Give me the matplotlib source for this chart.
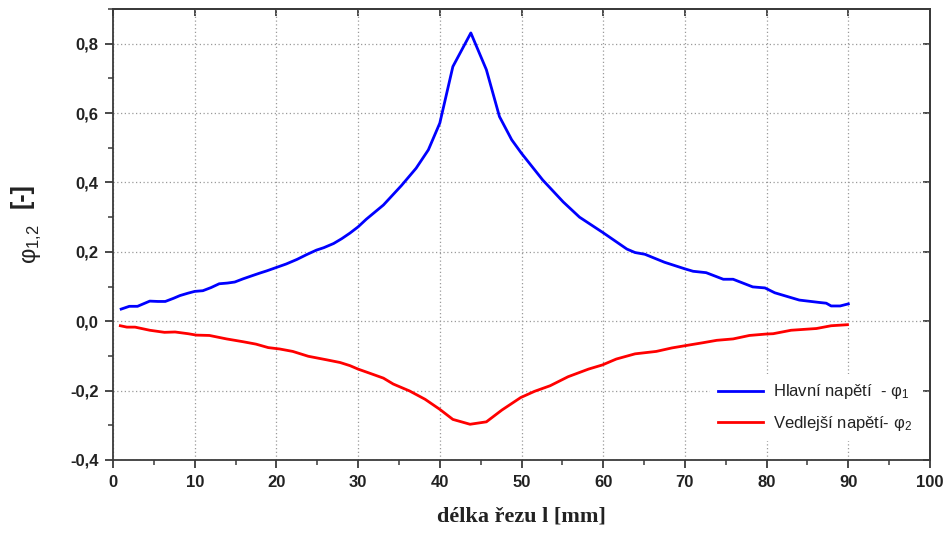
import matplotlib
matplotlib.use('Agg')
import matplotlib.pyplot as plt
from matplotlib.ticker import MultipleLocator, FuncFormatter

plt.rcParams['mathtext.fontset'] = 'custom'
plt.rcParams['mathtext.rm'] = 'Liberation Sans'
plt.rcParams['mathtext.it'] = 'Liberation Sans'

# Hlavní napětí (phi_1) along the cut
x_phi1 = [1.0, 2.0, 3.0, 3.6, 4.5, 5.5, 6.4, 7.4, 8.2, 9.2, 10.0, 11.0, 12.0,
          13.0, 14.0, 14.9, 15.9, 17.0, 18.0, 18.8, 20.0, 21.2, 22.5, 23.7,
          24.9, 25.8, 27.0, 28.0, 29.0, 30.0, 31.0, 33.1, 35.3, 37.1, 38.6,
          40.0, 41.6, 43.8, 45.7, 47.3, 48.8, 50.0, 52.6, 55.1, 57.1, 60.0,
          62.9, 63.9, 65.1, 67.5, 70.0, 71.0, 72.6, 74.7, 75.9, 78.3, 79.8,
          81.0, 82.0, 84.0, 86.5, 87.3, 87.9, 89.0, 90.0]
phi1 = [0.035, 0.043, 0.043, 0.049, 0.058, 0.057, 0.057, 0.066, 0.074, 0.081,
        0.086, 0.088, 0.097, 0.108, 0.110, 0.113, 0.122, 0.131, 0.139, 0.145,
        0.155, 0.165, 0.178, 0.192, 0.205, 0.212, 0.224, 0.238, 0.254, 0.272,
        0.294, 0.335, 0.391, 0.441, 0.494, 0.571, 0.734, 0.831, 0.725, 0.590,
        0.523, 0.484, 0.407, 0.344, 0.300, 0.255, 0.208, 0.198, 0.193, 0.170,
        0.151, 0.144, 0.140, 0.121, 0.121, 0.099, 0.096, 0.082, 0.075, 0.061,
        0.054, 0.052, 0.044, 0.044, 0.050]

# Vedlejší napětí (phi_2) along the cut
x_phi2 = [0.9, 1.7, 2.7, 4.5, 6.3, 7.6, 9.2, 10.2, 11.8, 13.9, 15.9, 17.5,
          19.0, 20.4, 22.0, 23.9, 26.1, 27.8, 29.0, 30.0, 31.2, 33.1, 34.3,
          36.3, 38.2, 40.0, 41.6, 43.7, 45.7, 47.6, 49.9, 51.6, 53.5, 55.7,
          58.2, 59.9, 61.6, 63.9, 66.5, 68.4, 69.9, 72.2, 73.9, 75.9, 77.9,
          79.9, 80.8, 83.0, 86.1, 87.9, 89.9]
phi2 = [-0.013, -0.017, -0.017, -0.026, -0.032, -0.031, -0.036, -0.040,
        -0.041, -0.051, -0.059, -0.066, -0.076, -0.080, -0.087, -0.101,
        -0.111, -0.119, -0.128, -0.138, -0.148, -0.164, -0.181, -0.201,
        -0.225, -0.254, -0.283, -0.297, -0.290, -0.256, -0.220, -0.202,
        -0.186, -0.160, -0.138, -0.126, -0.109, -0.094, -0.087, -0.077,
        -0.071, -0.062, -0.055, -0.051, -0.041, -0.037, -0.036, -0.026,
        -0.021, -0.013, -0.010]

labels = ['Hlavní napětí  - $\\mathrm{φ_1}$', 'Vedlejší napětí- $\\mathrm{φ_2}$']

W, H = 947, 533
fig = plt.figure(figsize=(W / 100, H / 100), dpi=100)
ax = fig.add_axes([113 / W, 1 - 460 / H, (930 - 113) / W, (460 - 9) / H])

ax.plot(x_phi1, phi1, color='#0000ff', lw=2.0, label=labels[0], zorder=3)
ax.plot(x_phi2, phi2, color='#ff0000', lw=2.0, label=labels[1], zorder=3)

ax.set_xlim(0, 100)
ax.set_ylim(-0.4, 0.9)
ax.xaxis.set_major_locator(MultipleLocator(10))
ax.xaxis.set_minor_locator(MultipleLocator(5))
ax.yaxis.set_major_locator(MultipleLocator(0.2))
ax.yaxis.set_minor_locator(MultipleLocator(0.1))
ax.yaxis.set_major_formatter(FuncFormatter(lambda v, p: f'{v:.1f}'.replace('.', ',')))

spine_col = '#3a3a3a'
for s in ax.spines.values():
    s.set_linewidth(1.3)
    s.set_color(spine_col)

ax.tick_params(which='major', direction='out', length=5.5, width=1.3, color=spine_col, pad=5)
ax.tick_params(which='minor', direction='out', length=3.5, width=1.1, color=spine_col)
for lab in ax.get_xticklabels() + ax.get_yticklabels():
    lab.set_fontfamily('Liberation Sans')
    lab.set_fontweight('bold')
    lab.set_fontsize(12)
    lab.set_color('#222222')

# inward major ticks on top and right
top = ax.secondary_xaxis('top')
top.xaxis.set_major_locator(MultipleLocator(10))
top.tick_params(direction='in', length=5, width=1.3, color=spine_col, labeltop=False)
right = ax.secondary_yaxis('right')
right.yaxis.set_major_locator(MultipleLocator(0.2))
right.tick_params(direction='in', length=5, width=1.3, color=spine_col, labelright=False)
for sec in (top, right):
    for s in sec.spines.values():
        s.set_linewidth(1.3)
        s.set_color(spine_col)

ax.grid(True, which='major', linestyle=(0, (1, 2)), color='#9a9a9a', lw=0.9, zorder=0)

ax.set_xlabel('délka řezu l [mm]', fontfamily='Liberation Serif', fontweight='bold',
              fontsize=16, color='#222222', labelpad=12)

# y label built from two pieces: the symbol and the bold unit
fig.text(36 / W, 1 - 264 / H, '$\\mathrm{φ_{1{,}2}}$', fontsize=17, color='#222222',
         rotation=90, rotation_mode='anchor', ha='left', va='baseline')
fig.text(29 / W, 1 - 208 / H, '[-]', fontsize=18, fontweight='bold', color='#222222',
         fontfamily='Liberation Sans', rotation=90, rotation_mode='anchor',
         ha='left', va='baseline')

leg = ax.legend(loc='upper left', bbox_to_anchor=(710 / W, 1 - 374 / H),
                bbox_transform=fig.transFigure, frameon=True, fancybox=False,
                framealpha=1, edgecolor='none', facecolor='white',
                prop={'family': 'Liberation Sans', 'size': 12},
                handlelength=2.7, handletextpad=0.6, labelspacing=0.75,
                borderpad=0.5, borderaxespad=0)
for t in leg.get_texts():
    t.set_color('#222222')
leg.set_zorder(5)

fig.savefig('out.png', dpi=100)
